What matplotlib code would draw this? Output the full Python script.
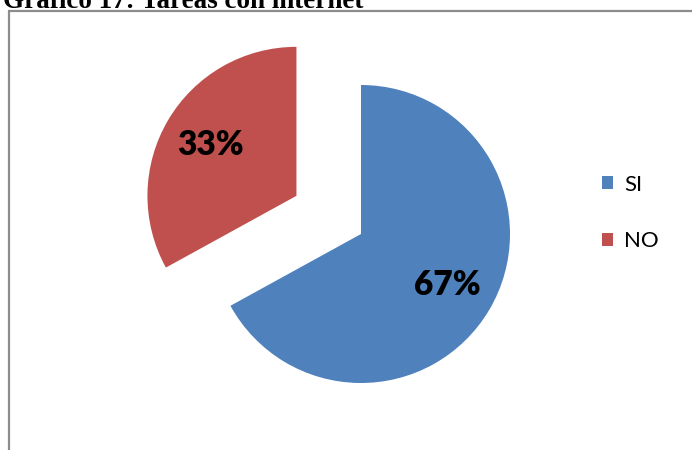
import matplotlib.pyplot as plt
from matplotlib.patches import Patch, Rectangle

# Tareas con internet: respuestas SI / NO
categorias = ['SI', 'NO']
porcentajes = [67, 33]
colores = ['#4F81BD', '#C0504D']

W, H = 692, 450
fig = plt.figure(figsize=(W / 100, H / 100), dpi=100)
fig.patch.set_facecolor('white')

# axes in pixel units so the pie can be placed directly
ax = fig.add_axes([0, 0, 1, 1])

wedges, textos, pcts = ax.pie(
    porcentajes, colors=colores, center=(361, H - 234), radius=149,
    startangle=90, counterclock=False, explode=[0, 75],
    autopct='%d%%', pctdistance=0.67,
    wedgeprops=dict(linewidth=0),
    textprops=dict(fontsize=24, fontweight='heavy', family='Lato', color='black'))
for t in pcts:
    t.set_va('center')
    t.set_ha('center')

# pie() resets the limits, so set them afterwards
ax.set_xlim(0, W)
ax.set_ylim(0, H)
ax.set_aspect('equal')
ax.axis('off')

# chart frame (runs off the right and bottom edges)
ax.add_patch(Rectangle((9, -20), W + 20, H - 11 + 20, fill=False,
                       edgecolor='#8C8C8C', linewidth=1.6))

handles = [Patch(facecolor=c, edgecolor='none') for c in colores]
leg = ax.legend(handles, categorias, loc='center left',
                bbox_to_anchor=(602 / W, 1 - 213 / H), bbox_transform=fig.transFigure,
                frameon=False, prop=dict(family='Lato', size=16),
                handlelength=0.5, handleheight=0.5, handletextpad=0.5,
                labelspacing=1.65, borderpad=0, borderaxespad=0)

fig.text(3 / W, 1 - 7.5 / H, 'Gráfico 17: Tareas con internet',
         fontsize=19.5, fontweight='bold', family='Liberation Serif',
         ha='left', va='baseline')

fig.savefig('out.png', dpi=100)
